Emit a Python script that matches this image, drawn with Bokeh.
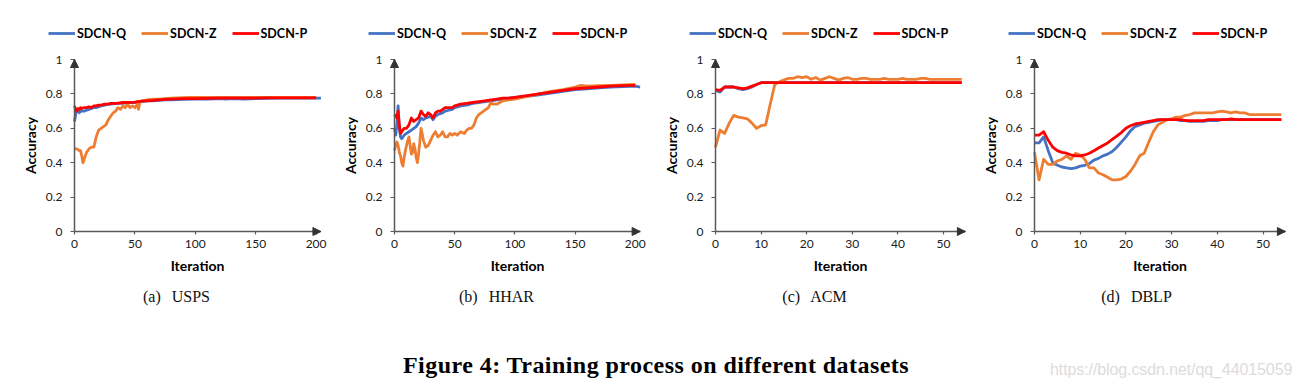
from bokeh.plotting import figure
from bokeh.models import Legend, LegendItem, FixedTicker, Arrow, NormalHead, Div, Range1d
from bokeh.layouts import row, column
from bokeh.embed import file_html
from bokeh.resources import INLINE

# ---------------- data ----------------
SERIES = ["SDCN-Q", "SDCN-Z", "SDCN-P"]
COLORS = ["#4472C4", "#ED7D31", "#FF0000"]
Y_TICKS = [0, 0.2, 0.4, 0.6, 0.8, 1.0]
X_TICKS_LONG = [0, 50, 100, 150, 200]
X_TICKS_SHORT = [0, 10, 20, 30, 40, 50]
SUBCAPTIONS = ["(a)", "(b)", "(c)", "(d)"]
DATASETS = ["USPS", "HHAR", "ACM", "DBLP"]
CAPTION = "Figure 4: Training process on different datasets"
WATERMARK = "https://blog.csdn.net/qq_44015059"

# USPS
usps_q_x = [0, 1, 2, 3, 4, 5, 6, 8, 10, 12, 14, 16, 18, 20, 22, 25, 28, 30, 35, 40,
            45, 50, 55, 60, 65, 70, 75, 80, 90, 100, 110, 120, 125, 130, 140, 150, 160, 170, 180, 190,
            200, 204]
usps_q_y = [0.64, 0.68, 0.71, 0.70, 0.69, 0.70, 0.70, 0.70, 0.705, 0.71, 0.715, 0.72, 0.72, 0.725, 0.73, 0.735, 0.74, 0.74, 0.745, 0.745,
            0.75, 0.75, 0.755, 0.76, 0.76, 0.762, 0.765, 0.765, 0.768, 0.77, 0.77, 0.772, 0.77, 0.772, 0.77, 0.773, 0.774, 0.775, 0.775, 0.776,
            0.775, 0.775]
usps_z_x = [0, 2, 4, 5, 6, 7, 8, 10, 12, 14, 16, 18, 20, 22, 24, 26, 28, 30, 32, 34,
            36, 38, 40, 42, 44, 46, 48, 50, 52, 53, 54, 56, 60, 65, 70, 80, 90, 95, 100, 120,
            140, 160, 180, 200]
usps_z_y = [0.48, 0.48, 0.47, 0.47, 0.44, 0.40, 0.42, 0.46, 0.48, 0.49, 0.49, 0.55, 0.59, 0.60, 0.61, 0.62, 0.65, 0.67, 0.69, 0.70,
            0.72, 0.71, 0.73, 0.72, 0.74, 0.72, 0.73, 0.72, 0.74, 0.71, 0.75, 0.76, 0.765, 0.77, 0.77, 0.775, 0.778, 0.78, 0.78, 0.78,
            0.78, 0.78, 0.78, 0.78]
usps_p_x = [0, 1, 2, 3, 4, 5, 6, 8, 10, 12, 14, 16, 18, 20, 22, 25, 28, 30, 35, 40,
            45, 50, 55, 60, 65, 70, 75, 80, 90, 100, 110, 120, 130, 140, 150, 160, 170, 180, 190, 200]
usps_p_y = [0.73, 0.71, 0.70, 0.715, 0.71, 0.72, 0.715, 0.72, 0.72, 0.725, 0.72, 0.73, 0.73, 0.735, 0.735, 0.74, 0.74, 0.745, 0.745, 0.75,
            0.75, 0.752, 0.758, 0.76, 0.762, 0.765, 0.768, 0.77, 0.772, 0.773, 0.774, 0.775, 0.775, 0.776, 0.776, 0.777, 0.777, 0.777, 0.777, 0.777]

# HHAR
hhar_q_x = [0, 1, 2, 3, 4, 5, 6, 8, 10, 12, 14, 16, 18, 20, 22, 24, 26, 28, 30, 32,
            34, 36, 38, 40, 42, 45, 48, 50, 55, 60, 65, 70, 75, 80, 85, 90, 95, 100, 110, 120,
            130, 140, 150, 160, 170, 180, 190, 200, 204]
hhar_q_y = [0.60, 0.56, 0.62, 0.73, 0.60, 0.55, 0.54, 0.56, 0.57, 0.58, 0.59, 0.60, 0.61, 0.63, 0.66, 0.65, 0.66, 0.665, 0.67, 0.65,
            0.67, 0.68, 0.685, 0.69, 0.70, 0.705, 0.71, 0.72, 0.73, 0.735, 0.745, 0.75, 0.755, 0.76, 0.765, 0.77, 0.775, 0.78, 0.785, 0.795,
            0.805, 0.815, 0.825, 0.83, 0.835, 0.84, 0.842, 0.845, 0.84]
hhar_z_x = [0, 1, 2, 3, 4, 5, 6, 7, 8, 9, 10, 11, 12, 13, 14, 15, 16, 17, 18, 19,
            20, 21, 22, 23, 24, 26, 28, 30, 32, 34, 36, 38, 40, 42, 44, 46, 48, 50, 52, 55,
            58, 60, 62, 64, 66, 68, 70, 72, 74, 76, 78, 80, 82, 85, 90, 95, 100, 110, 120, 130,
            140, 150, 155, 160, 170, 180, 190, 200]
hhar_z_y = [0.47, 0.50, 0.52, 0.50, 0.46, 0.44, 0.40, 0.38, 0.43, 0.47, 0.50, 0.53, 0.55, 0.50, 0.45, 0.46, 0.51, 0.48, 0.43, 0.40,
            0.45, 0.52, 0.60, 0.57, 0.53, 0.49, 0.50, 0.53, 0.56, 0.58, 0.55, 0.56, 0.58, 0.55, 0.55, 0.57, 0.56, 0.57, 0.56, 0.58,
            0.57, 0.59, 0.60, 0.60, 0.62, 0.66, 0.68, 0.69, 0.70, 0.71, 0.72, 0.75, 0.74, 0.74, 0.76, 0.765, 0.77, 0.785, 0.80, 0.815,
            0.825, 0.84, 0.85, 0.845, 0.848, 0.85, 0.852, 0.855]
hhar_p_x = [0, 1, 2, 3, 4, 5, 6, 8, 10, 12, 14, 16, 18, 20, 22, 24, 26, 28, 30, 32,
            34, 36, 38, 40, 42, 45, 48, 50, 55, 60, 65, 70, 75, 80, 85, 90, 95, 100, 110, 120,
            130, 140, 150, 160, 170, 180, 190, 200]
hhar_p_y = [0.68, 0.67, 0.66, 0.70, 0.62, 0.57, 0.58, 0.60, 0.60, 0.62, 0.66, 0.64, 0.65, 0.66, 0.70, 0.68, 0.67, 0.69, 0.68, 0.66,
            0.69, 0.70, 0.70, 0.71, 0.72, 0.72, 0.72, 0.73, 0.74, 0.745, 0.75, 0.755, 0.76, 0.765, 0.77, 0.775, 0.775, 0.78, 0.79, 0.80,
            0.81, 0.82, 0.83, 0.835, 0.84, 0.845, 0.848, 0.85]

# ACM
acm_z_x = [0, 1, 2, 3, 4, 5, 6, 7, 8, 9,
           10, 11, 12, 13, 14, 15, 16, 17, 18, 19,
           20, 21, 22, 23, 24, 25, 26, 27, 28, 29,
           30, 31, 32, 33, 34, 35, 36, 37, 38, 39,
           40, 41, 42, 43, 44, 45, 46, 47, 48, 49,
           50, 51, 52, 53, 54]
acm_z_y = [0.49, 0.59, 0.57, 0.63, 0.675, 0.665, 0.66, 0.655, 0.63, 0.60,
           0.615, 0.62, 0.74, 0.855, 0.87, 0.88, 0.89, 0.89, 0.90, 0.895,
           0.90, 0.885, 0.895, 0.88, 0.89, 0.90, 0.89, 0.88, 0.89, 0.895,
           0.885, 0.885, 0.89, 0.89, 0.885, 0.885, 0.885, 0.89, 0.885, 0.885,
           0.885, 0.89, 0.885, 0.885, 0.885, 0.89, 0.89, 0.885, 0.885, 0.885,
           0.885, 0.885, 0.885, 0.885, 0.885]
acm_q_x = [0, 1, 2, 3, 4, 5, 6, 7, 8, 9, 10, 11, 12, 20, 30, 40, 50, 54]
acm_q_y = [0.82, 0.81, 0.84, 0.84, 0.84, 0.83, 0.825, 0.83, 0.84, 0.855, 0.865, 0.865, 0.865, 0.865, 0.865, 0.865, 0.865, 0.865]
acm_p_x = [0, 1, 2, 3, 4, 5, 6, 7, 8, 9, 10, 11, 12, 20, 30, 40, 50, 54]
acm_p_y = [0.825, 0.82, 0.84, 0.84, 0.84, 0.835, 0.83, 0.835, 0.845, 0.855, 0.865, 0.865, 0.865, 0.865, 0.865, 0.865, 0.865, 0.865]

# DBLP
dblp_x = [0, 1, 2, 3, 4, 5, 6, 7, 8, 9,
          10, 11, 12, 13, 14, 15, 16, 17, 18, 19,
          20, 21, 22, 23, 24, 25, 26, 27, 28, 29,
          30, 31, 32, 33, 34, 35, 36, 37, 38, 39,
          40, 41, 42, 43, 44, 45, 46, 47, 48, 49,
          50, 51, 52, 53, 54]
dblp_q_y = [0.515, 0.515, 0.55, 0.47, 0.40, 0.385, 0.375, 0.37, 0.365, 0.37,
            0.38, 0.385, 0.395, 0.415, 0.425, 0.44, 0.45, 0.465, 0.49, 0.52,
            0.55, 0.585, 0.61, 0.62, 0.63, 0.635, 0.64, 0.645, 0.65, 0.65,
            0.65, 0.65, 0.645, 0.645, 0.64, 0.64, 0.64, 0.64, 0.645, 0.645,
            0.645, 0.65, 0.65, 0.65, 0.65, 0.65, 0.65, 0.65, 0.65, 0.65,
            0.65, 0.65, 0.65, 0.65, 0.65]
dblp_z_y = [0.46, 0.30, 0.42, 0.39, 0.39, 0.41, 0.42, 0.44, 0.42, 0.455,
            0.445, 0.42, 0.37, 0.37, 0.34, 0.33, 0.315, 0.30, 0.30, 0.305,
            0.32, 0.35, 0.39, 0.44, 0.455, 0.52, 0.58, 0.62, 0.635, 0.65,
            0.655, 0.665, 0.665, 0.675, 0.68, 0.69, 0.69, 0.69, 0.69, 0.69,
            0.695, 0.70, 0.695, 0.69, 0.695, 0.69, 0.69, 0.68, 0.68, 0.68,
            0.68, 0.68, 0.68, 0.68, 0.68]
dblp_p_y = [0.56, 0.56, 0.58, 0.53, 0.49, 0.47, 0.46, 0.455, 0.445, 0.44,
            0.44, 0.445, 0.455, 0.47, 0.485, 0.50, 0.515, 0.535, 0.555, 0.575,
            0.60, 0.615, 0.625, 0.63, 0.635, 0.64, 0.645, 0.65, 0.65, 0.65,
            0.65, 0.65, 0.65, 0.645, 0.645, 0.645, 0.645, 0.645, 0.65, 0.65,
            0.65, 0.65, 0.65, 0.655, 0.65, 0.65, 0.65, 0.65, 0.65, 0.65,
            0.65, 0.65, 0.65, 0.65, 0.65]

# ---------------- styling / geometry ----------------
FONT = "Lato"
AXIS_COLOR = "#595959"
TEXT_COLOR = "#1a1a1a"
LINE_W = 2.8
FIG_H = 282
Y0_PX = 231      # pixel row of accuracy 0 (from top of figure)
Y_PX_UNIT = 172  # pixels per accuracy unit


def make_panel(series, xmax, xticks, fig_left, width, x0_page, px_unit):
    x_start = -(x0_page - fig_left) / px_unit
    x_end = x_start + width / px_unit
    y_start = -(FIG_H - Y0_PX) / Y_PX_UNIT
    y_end = y_start + FIG_H / Y_PX_UNIT
    p = figure(width=width, height=FIG_H, output_backend="svg", toolbar_location=None,
               x_range=Range1d(x_start, x_end), y_range=Range1d(y_start, y_end))
    p.min_border = 0
    p.min_border_left = 0
    p.min_border_right = 0
    p.min_border_top = 0
    p.min_border_bottom = 0
    p.outline_line_color = None
    p.grid.visible = False
    p.background_fill_color = "white"
    p.border_fill_color = "white"

    items = []
    for (xs, ys), name, col in zip(series, SERIES, COLORS):
        r = p.line(xs, ys, line_color=col, line_width=LINE_W, line_join="round")
        items.append(LegendItem(label=name, renderers=[r]))

    for ax in (p.xaxis[0], p.yaxis[0]):
        ax.fixed_location = 0
        ax.axis_line_color = AXIS_COLOR
        ax.axis_line_width = 1.5
        ax.major_tick_line_color = AXIS_COLOR
        ax.major_tick_line_width = 1.2
        ax.major_tick_in = 0
        ax.minor_tick_line_color = None
        ax.major_label_text_font = FONT
        ax.major_label_text_font_size = "12px"
        ax.major_label_text_color = TEXT_COLOR
        ax.axis_label_text_font = FONT
        ax.axis_label_text_font_size = "14px"
        ax.axis_label_text_font_style = "bold"
        ax.axis_label_text_color = "#000000"

    p.xaxis.bounds = (0, xmax)
    p.xaxis.ticker = FixedTicker(ticks=xticks)
    p.xaxis.major_tick_out = 3
    p.xaxis.major_label_standoff = 5
    p.xaxis.axis_label = "Iteration"
    p.xaxis.axis_label_standoff = 6

    p.yaxis.bounds = (0, 1)
    p.yaxis.ticker = FixedTicker(ticks=Y_TICKS)
    p.yaxis.major_label_overrides = {0: "0", 1: "1"}
    p.yaxis.major_tick_out = 4
    p.yaxis.major_label_standoff = 8
    p.yaxis.axis_label = "Accuracy"
    p.yaxis.axis_label_standoff = 4

    # axis arrow heads
    p.add_layout(Arrow(end=NormalHead(size=8, fill_color="#333333", line_color="#333333"),
                       x_start=0, y_start=0, x_end=xmax, y_end=0, line_alpha=0))
    p.add_layout(Arrow(end=NormalHead(size=8, fill_color="#333333", line_color="#333333"),
                       x_start=0, y_start=0, x_end=0, y_end=1.0, line_alpha=0))

    legend_left = x0_page - fig_left - 26
    legend_bottom = FIG_H - 41
    legend = Legend(items=items, orientation="horizontal", location=(legend_left, legend_bottom),
                    margin=0, padding=0, spacing=15, label_standoff=2,
                    glyph_width=27, glyph_height=16, label_height=16,
                    label_text_font=FONT, label_text_font_size="12.5px",
                    label_text_font_style="bold", label_text_color="#000000",
                    background_fill_alpha=0, border_line_color=None)
    p.add_layout(legend)
    return p


pa = make_panel([(usps_q_x, usps_q_y), (usps_z_x, usps_z_y), (usps_p_x, usps_p_y)],
                204, X_TICKS_LONG, 0, 330, 74, 1.208)
pb = make_panel([(hhar_q_x, hhar_q_y), (hhar_z_x, hhar_z_y), (hhar_p_x, hhar_p_y)],
                204, X_TICKS_LONG, 330, 320, 394, 1.204)
pc = make_panel([(acm_q_x, acm_q_y), (acm_z_x, acm_z_y), (acm_p_x, acm_p_y)],
                54.8, X_TICKS_SHORT, 650, 320, 715, 4.56)
pd = make_panel([(dblp_x, dblp_q_y), (dblp_x, dblp_z_y), (dblp_x, dblp_p_y)],
                54.9, X_TICKS_SHORT, 970, 333, 1034, 4.57)

sub_centers = [176.5, 496.5, 814.5, 1136.5]
spans = []
for c, lab, ds in zip(sub_centers, SUBCAPTIONS, DATASETS):
    spans.append(
        f'<span style="position:absolute;left:{c}px;top:7px;transform:translateX(-50%);'
        f'font-family:\'Liberation Serif\',serif;font-size:16px;line-height:1;white-space:nowrap;'
        f'color:#111;word-spacing:7px;">{lab} {ds}</span>')
spans.append(
    f'<span style="position:absolute;left:403px;top:71px;font-family:\'Liberation Serif\',serif;'
    f'font-weight:bold;font-size:24px;line-height:1;letter-spacing:0.45px;white-space:nowrap;color:#000;">{CAPTION}</span>')
spans.append(
    f'<span style="position:absolute;left:1050px;top:80px;font-family:\'Liberation Sans\',sans-serif;'
    f'font-size:16px;line-height:1;letter-spacing:-0.1px;white-space:nowrap;color:#dcdcdc;">{WATERMARK}</span>')

div = Div(text='<div style="position:relative;width:1303px;height:99px;">' + "".join(spans) + '</div>',
          width=1303, height=99, margin=0)

layout = column(row(pa, pb, pc, pd, spacing=0), div, spacing=0)

with open("out.html", "w") as f:
    f.write(file_html(layout, INLINE, title="Training process"))
